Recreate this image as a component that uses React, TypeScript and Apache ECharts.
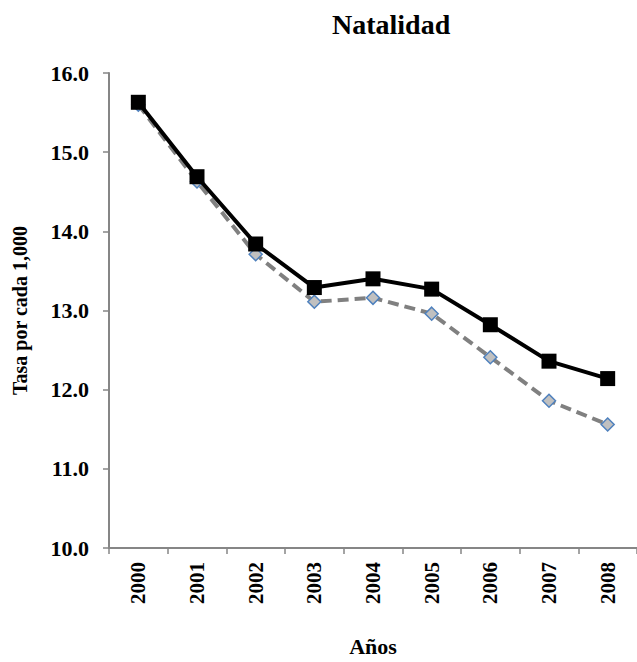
import React, { useEffect, useRef } from "react";
import * as echarts from "echarts";

const years = ["2000", "2001", "2002", "2003", "2004", "2005", "2006", "2007", "2008"];
const seriesA = [15.63, 14.69, 13.84, 13.29, 13.4, 13.27, 12.82, 12.36, 12.14];
const seriesB = [15.6, 14.63, 13.71, 13.11, 13.16, 12.96, 12.41, 11.86, 11.56];

const FONT = "'Liberation Serif', 'Times New Roman', serif";

export default function App() {
  const ref = useRef<HTMLDivElement>(null);
  useEffect(() => {
    if (!ref.current) return;
    const chart = echarts.init(ref.current, null, { renderer: "svg" });
    chart.setOption({
      animation: false,
      backgroundColor: "#ffffff",
      title: {
        text: "Natalidad",
        left: 327,
        top: 5,
        textStyle: { fontFamily: FONT, fontWeight: "bold", fontSize: 28, color: "#000" },
      },
      grid: { left: 109, right: -1, top: 73, bottom: 108 },
      xAxis: {
        type: "category",
        data: years,
        boundaryGap: true,
        name: "Años",
        nameLocation: "middle",
        nameGap: 87,
        nameTextStyle: { fontFamily: FONT, fontWeight: "bold", fontSize: 22, color: "#000" },
        axisLine: { lineStyle: { color: "#868686", width: 2 } },
        axisTick: { show: true, length: 6, inside: false, lineStyle: { color: "#868686", width: 1.5 } },
        axisLabel: {
          rotate: 90,
          margin: 14,
          fontFamily: FONT,
          fontWeight: "bold",
          fontSize: 21,
          color: "#000",
        },
        splitLine: { show: false },
      },
      yAxis: {
        type: "value",
        min: 10,
        max: 16,
        interval: 1,
        name: "Tasa por cada 1,000",
        nameLocation: "middle",
        nameRotate: 90,
        nameGap: 79,
        nameTextStyle: { fontFamily: FONT, fontWeight: "bold", fontSize: 20, color: "#000" },
        axisLine: { show: true, lineStyle: { color: "#868686", width: 2 } },
        axisTick: { show: true, length: 6, inside: false, lineStyle: { color: "#868686", width: 1.5 } },
        axisLabel: {
          margin: 20,
          fontFamily: FONT,
          fontWeight: "bold",
          fontSize: 22,
          color: "#000",
          formatter: (v: number) => v.toFixed(1),
        },
        splitLine: { show: false },
      },
      series: [
        {
          type: "line",
          data: seriesB,
          symbol: "diamond",
          symbolSize: 13,
          lineStyle: { color: "#808080", width: 4, type: [11, 6] },
          itemStyle: { color: "#c0c0c0", borderColor: "#4f81bd", borderWidth: 1.5 },
          z: 2,
        },
        {
          type: "line",
          data: seriesA,
          symbol: "rect",
          symbolSize: 15,
          lineStyle: { color: "#000000", width: 4 },
          itemStyle: { color: "#000000", borderColor: "#000000", borderWidth: 0 },
          z: 3,
        },
      ],
    });
    return () => chart.dispose();
  }, []);
  return (
    <div
      ref={ref}
      style={{ position: "fixed", left: 0, top: 0, width: 637, height: 662, background: "#fff" }}
    />
  );
}
